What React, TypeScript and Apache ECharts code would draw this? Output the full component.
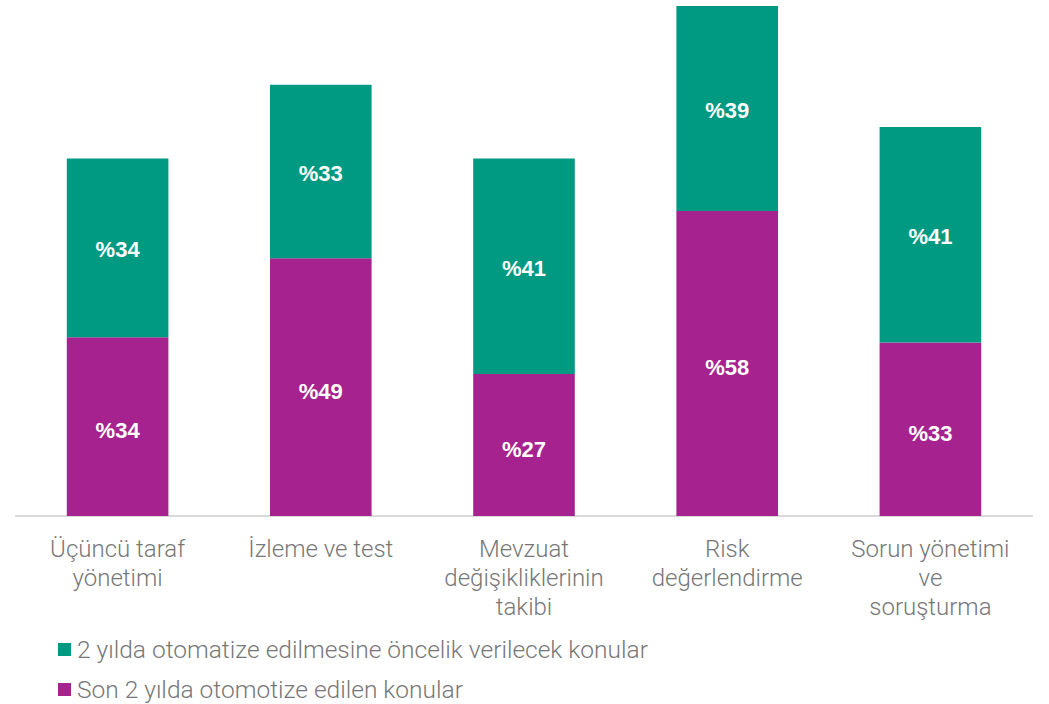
import React, { useEffect, useRef } from "react";
import * as echarts from "echarts";

const categories = [
  "Üçüncü taraf\nyönetimi",
  "İzleme ve test",
  "Mevzuat\ndeğişikliklerinin\ntakibi",
  "Risk\ndeğerlendirme",
  "Sorun yönetimi\nve\nsoruşturma",
];
const doneLast2Years = [34, 49, 27, 58, 33];
const priorityNext2Years = [34, 33, 41, 39, 41];
const seriesNames = [
  "2 yılda otomatize edilmesine öncelik verilecek konular",
  "Son 2 yılda otomotize edilen konular",
];

const GREEN = "#009A82";
const PURPLE = "#A6228E";
const FONT = "Roboto, 'Liberation Sans', sans-serif";
const TEXT_GRAY = "#777777";

export default function App() {
  const ref = useRef<HTMLDivElement>(null);
  useEffect(() => {
    document.body.style.margin = "0";
    const chart = echarts.init(ref.current!, null, { renderer: "svg" });
    const makeLabel = (dy: number) => ({
      show: true,
      position: "inside" as const,
      offset: [0, dy],
      color: "#fff",
      fontWeight: "bold" as const,
      fontSize: 22,
      fontFamily: "'Liberation Sans', Arial, sans-serif",
      formatter: (p: any) => "%" + p.value,
    });
    const legendBase = {
      orient: "horizontal" as const,
      left: 58,
      padding: 0,
      itemWidth: 13,
      itemHeight: 13,
      icon: "rect",
      textStyle: { color: TEXT_GRAY, fontSize: 24.5, fontFamily: FONT, fontWeight: 300, padding: [0, 0, 0, 1] },
    };
    chart.setOption({
      animation: false,
      grid: { left: 16, right: 17, top: 6, bottom: 188, containLabel: false },
      legend: [
        { ...legendBase, top: 637, data: [seriesNames[0]] },
        { ...legendBase, top: 677, data: [seriesNames[1]] },
      ],
      xAxis: {
        type: "category",
        data: categories,
        axisLine: { show: true, lineStyle: { color: "#d9d9d9", width: 2 } },
        axisTick: { show: false },
        axisLabel: {
          color: TEXT_GRAY,
          fontSize: 24,
          fontFamily: FONT,
          fontWeight: 300,
          lineHeight: 29,
          margin: 18,
          interval: 0,
          align: "center",
        },
      },
      yAxis: {
        type: "value",
        min: 0,
        max: 97,
        show: false,
        splitLine: { show: false },
      },
      series: [
        {
          name: seriesNames[1],
          type: "bar",
          stack: "total",
          barWidth: "50%",
          data: doneLast2Years,
          itemStyle: { color: PURPLE },
          label: makeLabel(4),
        },
        {
          name: seriesNames[0],
          type: "bar",
          stack: "total",
          barWidth: "50%",
          data: priorityNext2Years,
          itemStyle: { color: GREEN },
          label: makeLabel(2),
        },
      ],
    });
    return () => chart.dispose();
  }, []);
  return <div ref={ref} style={{ width: 1049, height: 704 }} />;
}
